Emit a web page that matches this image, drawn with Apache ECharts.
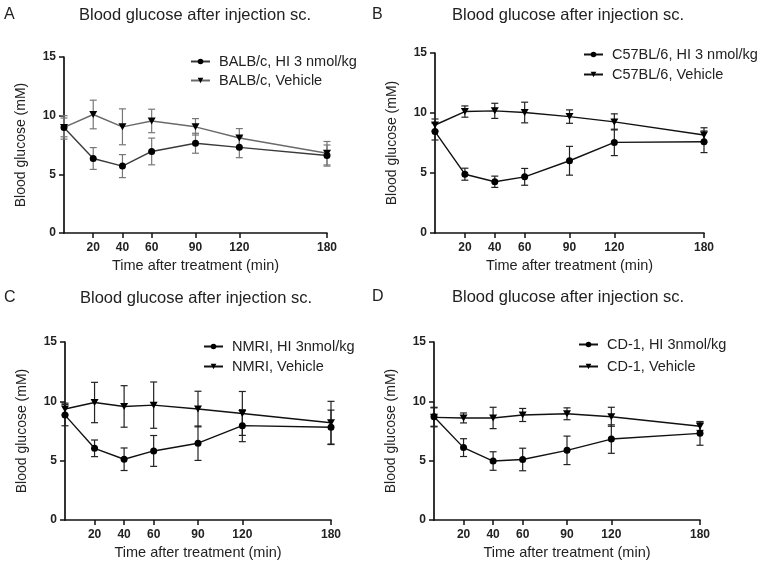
<!DOCTYPE html>
<html>
<head>
<meta charset="utf-8">
<script src="https://cdn.jsdelivr.net/npm/echarts@6/dist/echarts.min.js"></script>
<style>
  html, body { margin: 0; background: #fff; }
  #chart { width: 766px; height: 570px; }
</style>
</head>
<body>
<div id="chart"></div>
<script>
// time points (min) and labelled ticks
const times = [0, 20, 40, 60, 90, 120, 180]
const xTickValues = [20, 40, 60, 90, 120, 180]
const panelLetters = ['A', 'B', 'C', 'D']
const panelTitle = 'Blood glucose after injection sc.'
const xName = 'Time after treatment (min)'
const yName = 'Blood glucose (mM)'

// A - BALB/c
const balbNames = ['BALB/c, HI 3 nmol/kg', 'BALB/c, Vehicle']
const balbHi = [9.0, 6.35, 5.7, 6.95, 7.65, 7.3, 6.6]
const balbHiSd = [1.0, 0.93, 0.98, 1.14, 0.85, 0.88, 0.9]
const balbVeh = [9.0, 10.1, 9.05, 9.55, 9.05, 8.1, 6.8]
const balbVehSd = [0.8, 1.22, 1.53, 1.0, 0.7, 0.8, 1.0]

// B - C57BL/6
const c57Names = ['C57BL/6, HI 3 nmol/kg', 'C57BL/6, Vehicle']
const c57Hi = [8.45, 4.9, 4.27, 4.68, 6.02, 7.55, 7.6]
const c57HiSd = [0.7, 0.5, 0.47, 0.7, 1.2, 1.1, 0.9]
const c57Veh = [9.0, 10.12, 10.18, 10.04, 9.7, 9.26, 8.17]
const c57VehSd = [0.5, 0.47, 0.63, 0.86, 0.56, 0.67, 0.6]

// C - NMRI
const nmriNames = ['NMRI, HI 3nmol/kg', 'NMRI, Vehicle']
const nmriHi = [8.84, 6.04, 5.12, 5.82, 6.47, 7.95, 7.81]
const nmriHiSd = [0.9, 0.7, 0.95, 1.3, 1.45, 1.35, 1.45]
const nmriVeh = [9.35, 9.9, 9.57, 9.68, 9.35, 8.98, 8.2]
const nmriVehSd = [0.5, 1.7, 1.75, 1.95, 1.5, 1.85, 1.8]

// D - CD-1
const cd1Names = ['CD-1, HI 3nmol/kg', 'CD-1, Vehicle']
const cd1Hi = [8.7, 6.1, 4.97, 5.1, 5.87, 6.82, 7.3]
const cd1HiSd = [0.8, 0.75, 0.78, 0.95, 1.2, 1.2, 1.0]
const cd1Veh = [8.65, 8.6, 8.6, 8.85, 8.95, 8.7, 7.9]
const cd1VehSd = [0.8, 0.42, 0.9, 0.55, 0.5, 0.8, 0.35]

const panels = [
    { names: balbNames, hi: balbHi, hiSd: balbHiSd, veh: balbVeh, vehSd: balbVehSd },
    { names: c57Names, hi: c57Hi, hiSd: c57HiSd, veh: c57Veh, vehSd: c57VehSd },
    { names: nmriNames, hi: nmriHi, hiSd: nmriHiSd, veh: nmriVeh, vehSd: nmriVehSd },
    { names: cd1Names, hi: cd1Hi, hiSd: cd1HiSd, veh: cd1Veh, vehSd: cd1VehSd }
]

// layout / look of each panel
const layout = [
    { grid: [64, 57, 263, 176], title: [195, 15], letter: [4, 15], legend: [190, 53, 2], hiColor: '#3a3a3a', vehColor: '#6a6a6a', errColor: '#777' },
    { grid: [435, 53, 269, 180], title: [568, 15], letter: [372, 15], legend: [583, 46, 3], hiColor: '#111', vehColor: '#111', errColor: '#222' },
    { grid: [65, 342, 266, 178], title: [196, 298], letter: [4, 298], legend: [203, 338, 3], hiColor: '#111', vehColor: '#111', errColor: '#222' },
    { grid: [434, 342, 266, 178], title: [568, 297], letter: [372, 297], legend: [578, 336, 5], hiColor: '#111', vehColor: '#111', errColor: '#222' }
]

const font = '"Liberation Sans", Arial, sans-serif'
const downTriangle = 'path://M0,0 L10,0 L5,9 Z'

function errRender(params, api) {
    const x = api.value(0), m = api.value(1), s = api.value(2)
    const top = api.coord([x, m + s])
    const bot = api.coord([x, m - s])
    const w = 3.5
    const style = { stroke: api.visual('color'), lineWidth: 1.2 }
    return {
        type: 'group',
        children: [
            { type: 'line', shape: { x1: top[0], y1: top[1], x2: bot[0], y2: bot[1] }, style: style },
            { type: 'line', shape: { x1: top[0] - w, y1: top[1], x2: top[0] + w, y2: top[1] }, style: style },
            { type: 'line', shape: { x1: bot[0] - w, y1: bot[1], x2: bot[0] + w, y2: bot[1] }, style: style }
        ]
    }
}

const grids = [], xAxes = [], yAxes = [], series = [], legends = [], graphics = []

panels.forEach((p, i) => {
    const L = layout[i]
    grids.push({ left: L.grid[0], top: L.grid[1], width: L.grid[2], height: L.grid[3] })
    xAxes.push({
        type: 'value', gridIndex: i, min: 0, max: 180,
        name: xName, nameLocation: 'middle', nameGap: 25,
        nameTextStyle: { fontSize: 14.5, color: '#222', fontFamily: font },
        axisLine: { lineStyle: { color: '#111', width: 1.7 } },
        axisTick: { customValues: xTickValues, length: 5, lineStyle: { color: '#111', width: 1.5 } },
        axisLabel: { customValues: xTickValues, margin: 9, fontSize: 12, fontWeight: 'bold', color: '#222', fontFamily: font },
        splitLine: { show: false }
    })
    yAxes.push({
        type: 'value', gridIndex: i, min: 0, max: 15, interval: 5,
        name: yName, nameLocation: 'middle', nameGap: 36,
        nameTextStyle: { fontSize: 14, color: '#222', fontFamily: font },
        axisLine: { show: true, lineStyle: { color: '#111', width: 1.7 } },
        axisTick: { show: true, length: 5, lineStyle: { color: '#111', width: 1.5 } },
        axisLabel: { margin: 8, fontSize: 12, fontWeight: 'bold', color: '#222', fontFamily: font },
        splitLine: { show: false }
    })

    series.push({
        type: 'custom', name: p.names[1] + ' err', xAxisIndex: i, yAxisIndex: i,
        renderItem: errRender, itemStyle: { color: L.errColor },
        data: times.map((t, j) => [t, p.veh[j], p.vehSd[j]]), z: 2
    })
    series.push({
        type: 'custom', name: p.names[0] + ' err', xAxisIndex: i, yAxisIndex: i,
        renderItem: errRender, itemStyle: { color: L.errColor },
        data: times.map((t, j) => [t, p.hi[j], p.hiSd[j]]), z: 2
    })
    series.push({
        type: 'line', name: p.names[0], xAxisIndex: i, yAxisIndex: i,
        symbol: 'circle', symbolSize: 7,
        lineStyle: { color: L.hiColor, width: 1.4 },
        itemStyle: { color: '#000' },
        data: times.map((t, j) => [t, p.hi[j]]), z: 3
    })
    series.push({
        type: 'line', name: p.names[1], xAxisIndex: i, yAxisIndex: i,
        symbol: downTriangle, symbolSize: [8, 7],
        lineStyle: { color: L.vehColor, width: 1.4 },
        itemStyle: { color: '#000' },
        data: times.map((t, j) => [t, p.veh[j]]), z: 3
    })

    legends.push({
        data: p.names, orient: 'vertical', left: L.legend[0], top: L.legend[1],
        itemGap: L.legend[2], itemWidth: 19, itemHeight: 7, padding: 0,
        textStyle: { fontSize: 14.5, color: '#222', fontFamily: font, padding: [0, 0, 0, 4], lineHeight: 17 },
        selectedMode: false
    })

    graphics.push({
        type: 'text', x: L.title[0], y: L.title[1],
        style: { text: panelTitle, textAlign: 'center', textVerticalAlign: 'middle', fontSize: 16.5, fontFamily: font, fill: '#222' }
    })
    graphics.push({
        type: 'text', x: L.letter[0], y: L.letter[1],
        style: { text: panelLetters[i], textAlign: 'left', textVerticalAlign: 'middle', fontSize: 16, fontFamily: font, fill: '#222' }
    })
})

const chart = echarts.init(document.getElementById('chart'))
chart.setOption({
    backgroundColor: '#fff',
    animation: false,
    grid: grids,
    xAxis: xAxes,
    yAxis: yAxes,
    legend: legends,
    graphic: graphics,
    series: series
})
</script>
</body>
</html>
